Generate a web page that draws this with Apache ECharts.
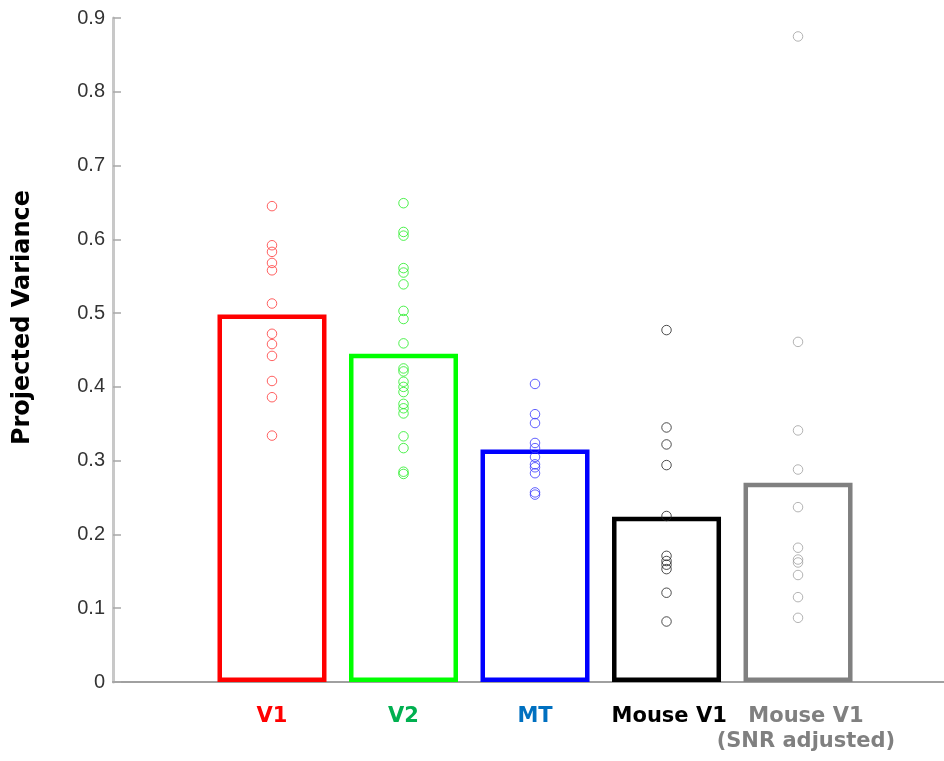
<!DOCTYPE html>
<html>
<head>
<meta charset="utf-8">
<script src="https://cdn.jsdelivr.net/npm/echarts@6/dist/echarts.min.js"></script>
<style>
html,body{margin:0;padding:0;background:#fff;}
#chart{width:944px;height:761px;}
</style>
</head>
<body>
<div id="chart"></div>
<script>
var categories = ['V1', 'V2', 'MT', 'Mouse V1', 'Mouse V1\n(SNR adjusted)'];
var categoryPositions = [1, 2, 3, 4, 5];
var labelPositions = [1, 2, 3, 4.02, 5.06];
var barValues = [0.498, 0.445, 0.315, 0.224, 0.270];
var barColors = ['#ff0000', '#00ff00', '#0000ff', '#000000', '#808080'];
var pointColors = ['#ff3a3a', '#22ee22', '#3a3aff', '#222222', '#a0a0a0'];
var labelColors = ['#ff0000', '#00b050', '#0070c0', '#000000', '#808080'];

var v1Points = [0.645, 0.592, 0.583, 0.568, 0.558, 0.513, 0.472, 0.458, 0.442, 0.408, 0.386, 0.334];
var v2Points = [0.649, 0.610, 0.605, 0.561, 0.555, 0.539, 0.503, 0.492, 0.459, 0.425, 0.421, 0.407, 0.400, 0.393, 0.377, 0.371, 0.364, 0.333, 0.317, 0.285, 0.282];
var mtPoints = [0.404, 0.363, 0.351, 0.324, 0.317, 0.305, 0.295, 0.291, 0.283, 0.257, 0.254];
var mousePoints = [0.477, 0.345, 0.322, 0.294, 0.225, 0.171, 0.164, 0.159, 0.153, 0.121, 0.082];
var snrPoints = [0.875, 0.461, 0.341, 0.288, 0.237, 0.182, 0.166, 0.162, 0.145, 0.115, 0.087];
var allPoints = [v1Points, v2Points, mtPoints, mousePoints, snrPoints];

var yTicks = { min: 0, max: 0.9, interval: 0.1 };
var xRange = { min: -0.209, max: 6.11 };

var barData = barValues.map(function (v, i) {
  return {
    value: [categoryPositions[i], v],
    itemStyle: { color: 'rgba(255,255,255,0)', borderColor: barColors[i], borderWidth: 4.5 }
  };
});

var scatterSeries = allPoints.map(function (pts, i) {
  return {
    type: 'scatter',
    name: categories[i],
    xAxisIndex: 0,
    symbol: 'circle',
    symbolSize: 9.5,
    z: 5,
    itemStyle: { color: 'rgba(255,255,255,0)', borderColor: pointColors[i], borderWidth: 1 },
    data: pts.map(function (v) { return [categoryPositions[i], v]; })
  };
});

var rich = {};
labelColors.forEach(function (c, i) {
  rich['c' + i] = {
    color: c, fontFamily: 'DejaVu Sans', fontWeight: 'bold', fontSize: 21, lineHeight: 25, align: 'center'
  };
});

function labelFormatter(val) {
  var idx = Math.round(val) - 1;
  var lines = categories[idx].split('\n');
  return lines.map(function (l) { return '{c' + idx + '|' + l + '}'; }).join('\n');
}

function makeXAxis(values, showLine) {
  return {
    type: 'value',
    position: 'bottom',
    min: xRange.min,
    max: xRange.max,
    axisLine: { show: showLine, onZero: false, lineStyle: { color: '#a0a0a0', width: 2 } },
    axisTick: { show: false },
    splitLine: { show: false },
    axisLabel: {
      show: true,
      hideOverlap: false,
      customValues: values,
      margin: 22,
      formatter: labelFormatter,
      rich: rich
    }
  };
}

var chart = echarts.init(document.getElementById('chart'), null, { renderer: 'canvas' });
chart.setOption({
  animation: false,
  backgroundColor: '#ffffff',
  grid: { left: 113, right: 0, top: 18, bottom: 79, containLabel: false },
  xAxis: [
    makeXAxis(labelPositions.slice(0, 4), true),
    makeXAxis(labelPositions.slice(4), false)
  ],
  yAxis: {
    type: 'value',
    min: yTicks.min,
    max: yTicks.max,
    interval: yTicks.interval,
    axisLine: { show: true, onZero: false, lineStyle: { color: '#c8c8c8', width: 3 } },
    axisTick: { show: true, inside: true, length: 8, lineStyle: { color: '#a8a8a8', width: 1.5 } },
    splitLine: { show: false },
    axisLabel: {
      margin: 8,
      color: '#333333',
      fontFamily: 'Liberation Sans',
      fontSize: 20,
      formatter: function (v) { return String(Math.round(v * 10) / 10); }
    }
  },
  graphic: [{
    type: 'text',
    x: 22.5,
    y: 317.5,
    rotation: Math.PI / 2,
    style: {
      text: 'Projected Variance',
      fontFamily: 'DejaVu Sans',
      fontWeight: 'bold',
      fontSize: 24,
      fill: '#000000',
      align: 'center',
      verticalAlign: 'middle'
    }
  }],
  series: [{
    type: 'bar',
    xAxisIndex: 0,
    barWidth: 109,
    z: 2,
    data: barData
  }].concat(scatterSeries)
});
</script>
</body>
</html>
